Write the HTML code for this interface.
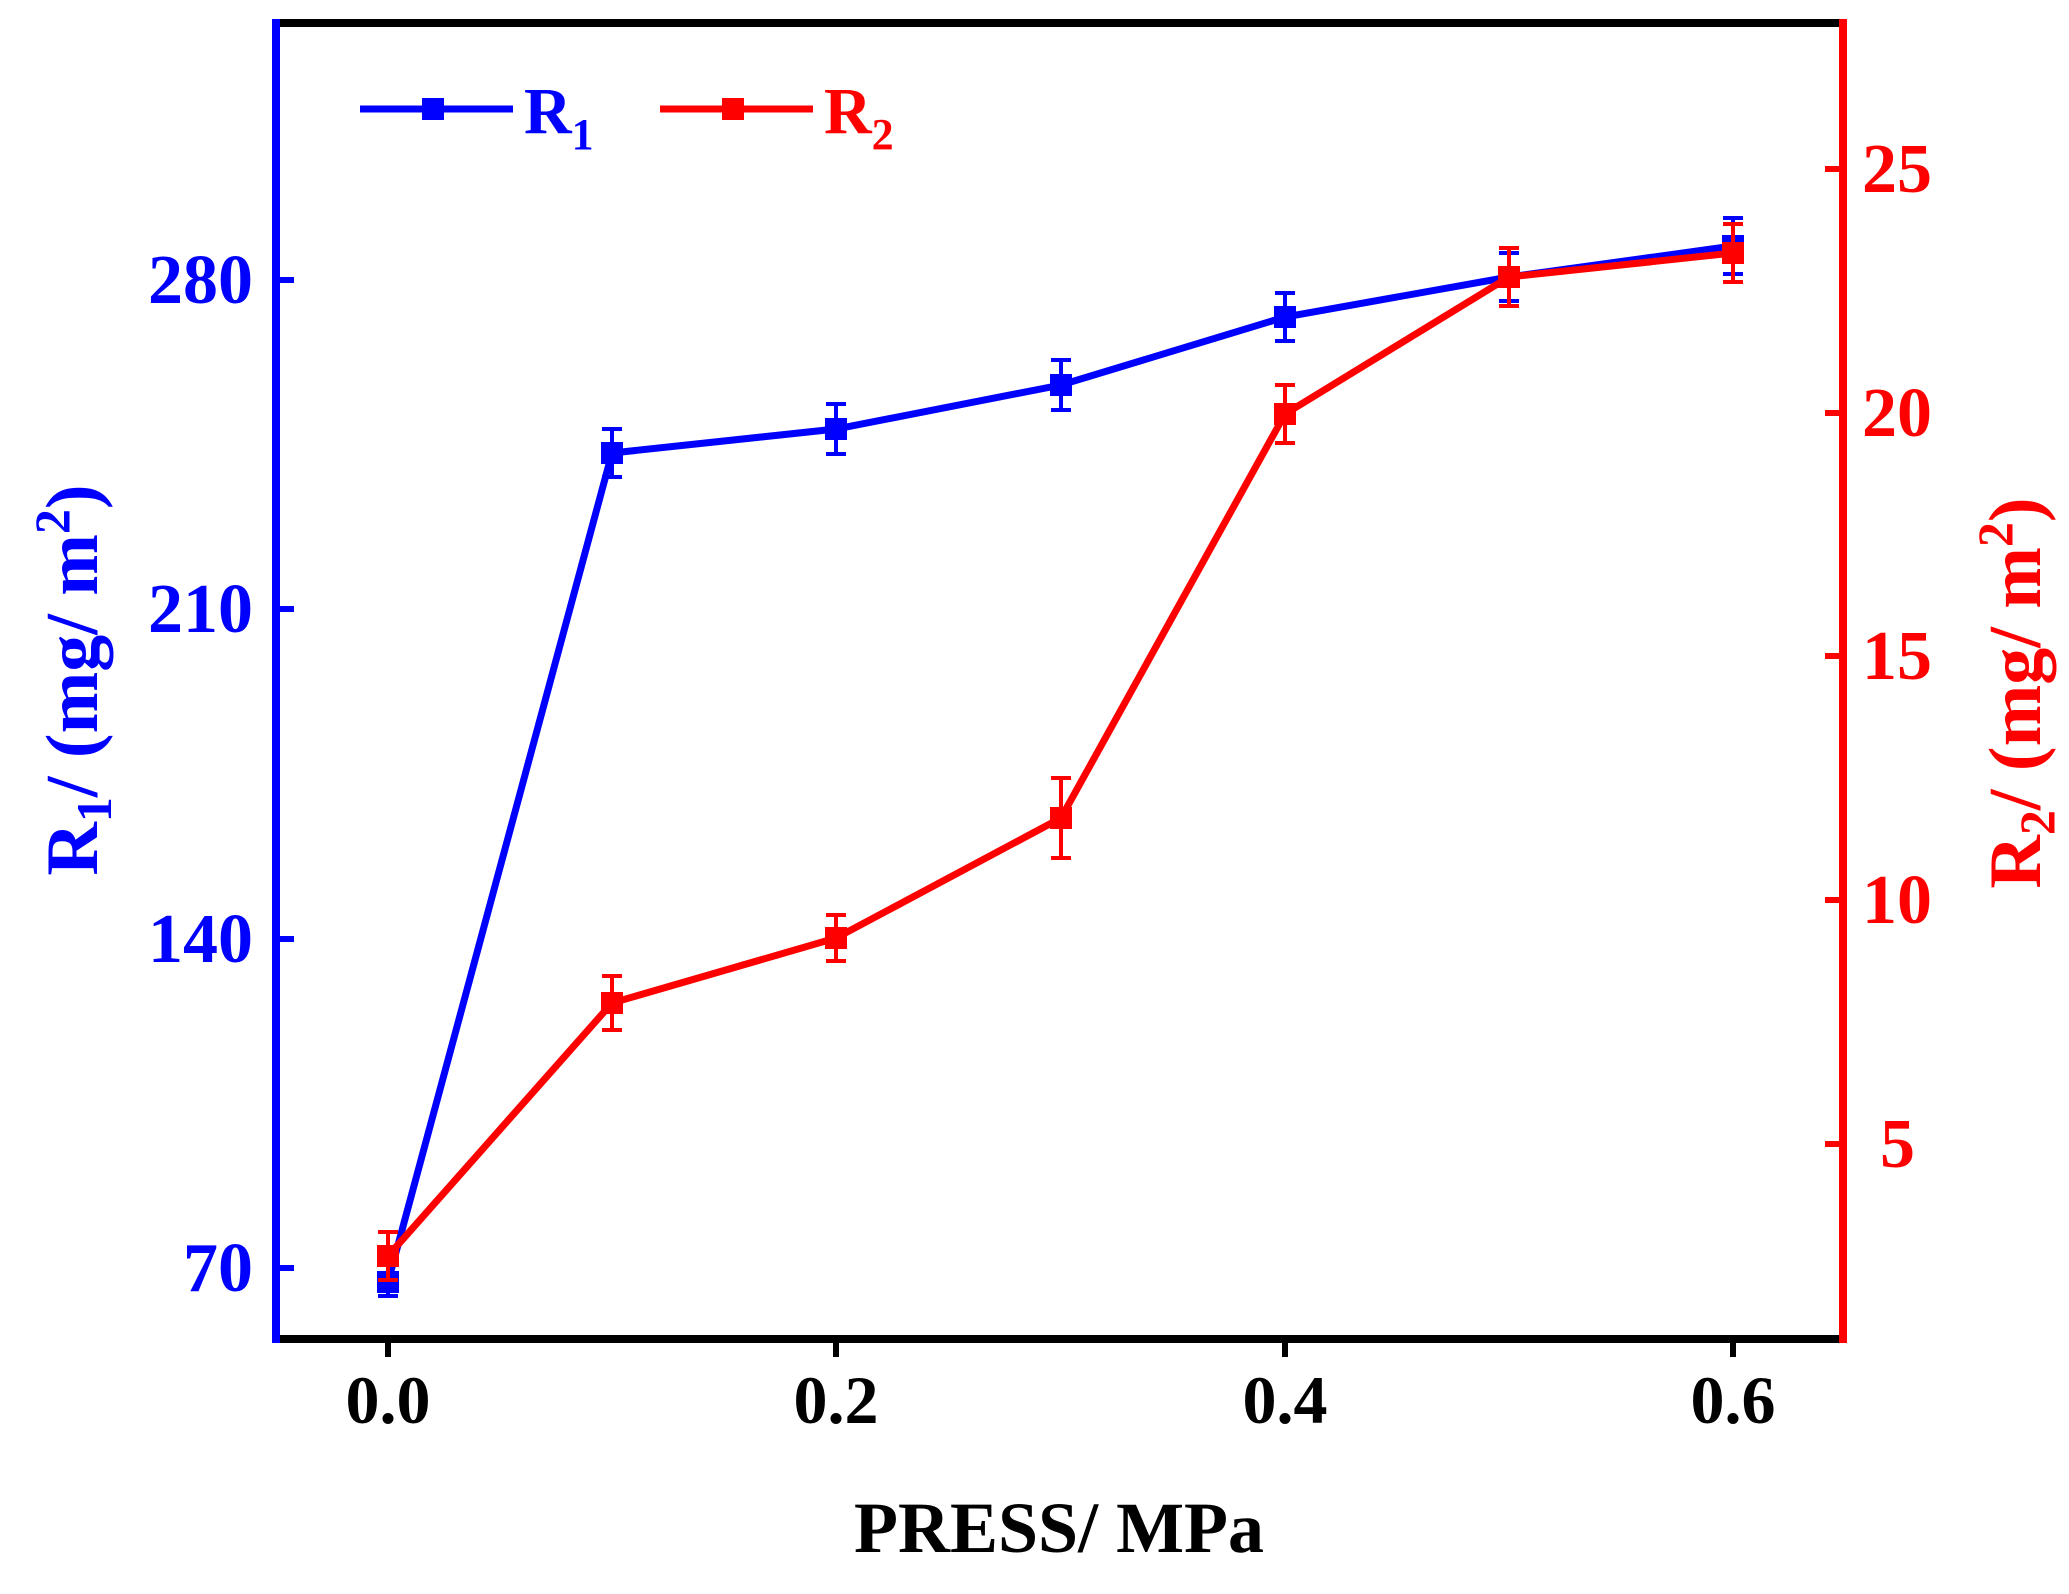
<!DOCTYPE html>
<html><head><meta charset="utf-8"><style>html,body{margin:0;padding:0;background:#fff}</style></head>
<body>
<svg width="2069" height="1589" viewBox="0 0 2069 1589" xmlns="http://www.w3.org/2000/svg" font-family="Liberation Serif, serif" font-weight="bold">
<rect width="2069" height="1589" fill="#fff"/>
<line x1="272" y1="23" x2="1847" y2="23" stroke="#000" stroke-width="8"/>
<line x1="272" y1="1339" x2="1847" y2="1339" stroke="#000" stroke-width="8"/>
<line x1="276" y1="19" x2="276" y2="1343" stroke="#0000ff" stroke-width="8"/>
<line x1="1843" y1="19" x2="1843" y2="1343" stroke="#ff0000" stroke-width="8"/>
<g stroke="#000" stroke-width="6">
<line x1="388" y1="1339" x2="388" y2="1357"/><line x1="836" y1="1339" x2="836" y2="1357"/><line x1="1285" y1="1339" x2="1285" y2="1357"/><line x1="1733" y1="1339" x2="1733" y2="1357"/>
</g>
<g font-size="68" text-anchor="middle" fill="#000">
<text x="388" y="1423">0.0</text><text x="836" y="1423">0.2</text><text x="1285" y="1423">0.4</text><text x="1733" y="1423">0.6</text>
</g>
<text x="1059" y="1552" font-size="72" text-anchor="middle" fill="#000">PRESS/ MPa</text>
<g stroke="#0000ff" stroke-width="6">
<line x1="276" y1="280" x2="294" y2="280"/><line x1="276" y1="609" x2="294" y2="609"/><line x1="276" y1="939" x2="294" y2="939"/><line x1="276" y1="1268" x2="294" y2="1268"/>
</g>
<g font-size="70" text-anchor="end" fill="#0000ff">
<text x="253" y="303">280</text><text x="253" y="632">210</text><text x="253" y="962">140</text><text x="253" y="1291">70</text>
</g>
<g stroke="#ff0000" stroke-width="6">
<line x1="1825" y1="169" x2="1843" y2="169"/><line x1="1825" y1="413" x2="1843" y2="413"/><line x1="1825" y1="656" x2="1843" y2="656"/><line x1="1825" y1="900" x2="1843" y2="900"/><line x1="1825" y1="1144" x2="1843" y2="1144"/>
</g>
<g font-size="70" text-anchor="start" fill="#ff0000">
<text x="1862" y="192">25</text><text x="1862" y="436">20</text><text x="1862" y="679">15</text><text x="1862" y="923">10</text><text x="1880" y="1167">5</text>
</g>
<text transform="translate(97,680) rotate(-90)" font-size="74" text-anchor="middle" fill="#0000ff">R<tspan font-size="50" dy="14">1</tspan><tspan dy="-14">/ (mg/ m</tspan><tspan font-size="50" dy="-28">2</tspan><tspan dy="28">)</tspan></text>
<text transform="translate(2040,693) rotate(-90)" font-size="74" text-anchor="middle" fill="#ff0000">R<tspan font-size="50" dy="14">2</tspan><tspan dy="-14">/ (mg/ m</tspan><tspan font-size="50" dy="-28">2</tspan><tspan dy="28">)</tspan></text>
<g stroke="#0000ff" fill="none">
<polyline stroke-width="7" points="388,1282 612,453 836,429 1061,385 1285,317 1509,277 1733,246"/>
<g stroke-width="4">
<path d="M388,1258V1296M378,1296H398M612,429V477M602,429H622M602,477H622M836,404V454M826,404H846M826,454H846M1061,360V410M1051,360H1071M1051,410H1071M1285,293V341M1275,293H1295M1275,341H1295M1509,253V301M1499,253H1519M1499,301H1519M1733,218V274M1723,218H1743M1723,274H1743"/>
</g>
</g>
<g fill="#0000ff">
<rect x="377" y="1271" width="22" height="22"/><rect x="601" y="442" width="22" height="22"/><rect x="825" y="418" width="22" height="22"/><rect x="1050" y="374" width="22" height="22"/><rect x="1274" y="306" width="22" height="22"/><rect x="1498" y="266" width="22" height="22"/><rect x="1722" y="235" width="22" height="22"/>
</g>
<g stroke="#ff0000" fill="none">
<polyline stroke-width="7" points="388,1256 612,1003 836,938 1061,818 1285,414 1509,277 1733,253"/>
<g stroke-width="4">
<path d="M388,1232V1280M378,1232H398M378,1280H398M612,976V1030M602,976H622M602,1030H622M836,915V961M826,915H846M826,961H846M1061,778V858M1051,778H1071M1051,858H1071M1285,385V443M1275,385H1295M1275,443H1295M1509,248V306M1499,248H1519M1499,306H1519M1733,224V282M1723,224H1743M1723,282H1743"/>
</g>
</g>
<g fill="#ff0000">
<rect x="377" y="1245" width="22" height="22"/><rect x="601" y="992" width="22" height="22"/><rect x="825" y="927" width="22" height="22"/><rect x="1050" y="807" width="22" height="22"/><rect x="1274" y="403" width="22" height="22"/><rect x="1498" y="266" width="22" height="22"/><rect x="1722" y="242" width="22" height="22"/>
</g>
<line x1="360" y1="109" x2="513" y2="109" stroke="#0000ff" stroke-width="7"/>
<rect x="422" y="98" width="22" height="22" fill="#0000ff"/>
<text x="524" y="133" font-size="66" fill="#0000ff">R<tspan font-size="44" dy="16">1</tspan></text>
<line x1="660" y1="109" x2="813" y2="109" stroke="#ff0000" stroke-width="7"/>
<rect x="722" y="98" width="22" height="22" fill="#ff0000"/>
<text x="824" y="133" font-size="66" fill="#ff0000">R<tspan font-size="44" dy="16">2</tspan></text>
</svg>
</body></html>
